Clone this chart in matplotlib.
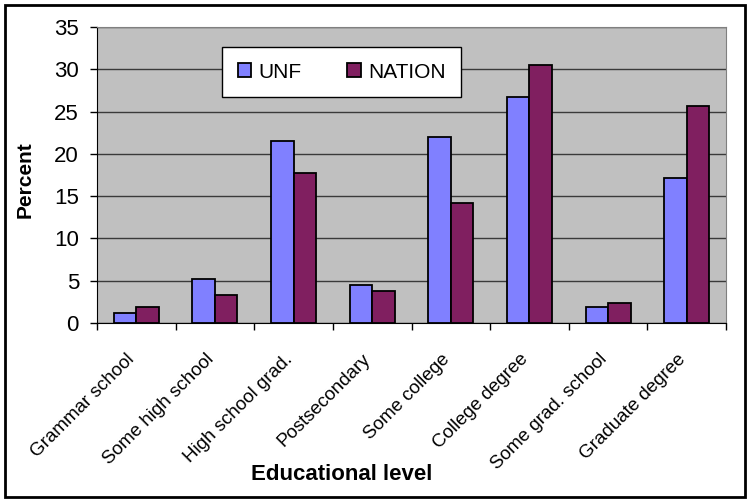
import numpy as np
import matplotlib.pyplot as plt
from matplotlib.patches import Rectangle
from matplotlib.transforms import ScaledTranslation

# survey data
categories = ['Grammar school', 'Some high school', 'High school grad.', 'Postsecondary',
              'Some college', 'College degree', 'Some grad. school', 'Graduate degree']
unf = [1.2, 5.2, 21.5, 4.5, 22.0, 26.7, 1.9, 17.2]
nation = [1.9, 3.3, 17.7, 3.8, 14.2, 30.5, 2.4, 25.7]
yticks = [0, 5, 10, 15, 20, 25, 30, 35]

UNF_COL = '#8080FF'
NAT_COL = '#801F60'
plt.rcParams['font.family'] = ['Liberation Sans', 'DejaVu Sans']

fig = plt.figure(figsize=(7.49, 4.99), dpi=100)
ax = fig.add_axes([97/749, 1-323/499, 629/749, 296/499])
ax.set_facecolor('#C0C0C0')

x = np.arange(len(categories))
w = 1/3.5
ax.bar(x - w/2, unf, w, color=UNF_COL, edgecolor='black', linewidth=1.3, label='UNF', zorder=3)
ax.bar(x + w/2, nation, w, color=NAT_COL, edgecolor='black', linewidth=1.3, label='NATION', zorder=3)

ax.set_xlim(-0.5, len(categories) - 0.5)
ax.set_ylim(0, 35)
ax.set_yticks(yticks)
ax.tick_params(axis='y', labelsize=16, length=5, width=1, pad=8, direction='out')
ax.yaxis.grid(True, color='#3a3a3a', linewidth=1, zorder=1)
ax.set_axisbelow(True)

# category boundaries carry the tick marks, labels sit at the centres
ax.set_xticks(np.arange(len(categories) + 1) - 0.5)
ax.set_xticklabels([])
ax.tick_params(axis='x', which='major', length=5, width=1, direction='out')
ax.set_xticks(x, minor=True)
ax.set_xticklabels(categories, minor=True, rotation=45, ha='right',
                   rotation_mode='anchor', fontsize=13.5)
ax.tick_params(axis='x', which='minor', length=0, pad=20)
shift = ScaledTranslation(-10/100, 0, fig.dpi_scale_trans)
for lab in ax.get_xticklabels(minor=True):
    lab.set_transform(lab.get_transform() + shift)

for side in ['top', 'right']:
    ax.spines[side].set_color('#808080')
ax.spines['left'].set_color('black')
ax.spines['bottom'].set_color('black')

fig.text(25/749, 1-180/499, 'Percent', fontsize=15, fontweight='bold',
         rotation=90, ha='center', va='center')
fig.text(342/749, 1-475/499, 'Educational level', fontsize=16, fontweight='bold',
         ha='center', va='center')

leg = ax.legend(loc='upper left', bbox_to_anchor=(0.1987, 0.932), ncol=2,
                borderaxespad=0, fancybox=False, framealpha=1, edgecolor='black',
                prop={'size': 15},
                handlelength=0.65, handleheight=0.65, handletextpad=0.35,
                columnspacing=2.2, borderpad=0.75)
leg.get_frame().set_linewidth(1)

fig.patches.append(Rectangle((5/749, 2/499), 740/749, 492/499, transform=fig.transFigure,
                             fill=False, edgecolor='black', linewidth=2))

fig.savefig('out.png', dpi=100)
